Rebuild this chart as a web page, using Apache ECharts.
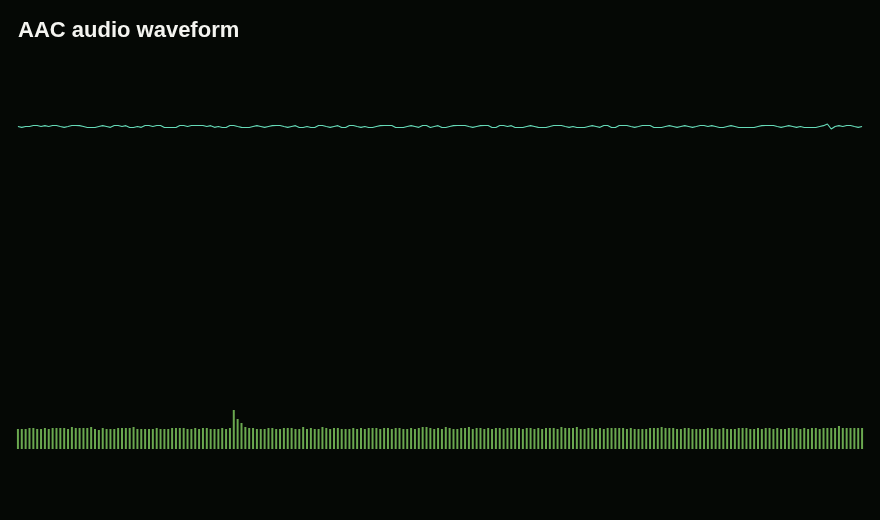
<!DOCTYPE html>
<html>
<head>
    <meta charset="utf-8">
    <title>AAC audio waveform</title>
    <script src="https://cdn.jsdelivr.net/npm/echarts@6/dist/echarts.min.js"></script>
    <style>
        html, body { margin: 0; padding: 0; background: #050805; }
    </style>
</head>
<body>
    <div id="main" style="width:880px; height:520px;"></div>

    <script type="text/javascript">

        // waveform samples (normalised amplitude, -1..1)
        var waveform = [
            0, -0.008, 0, 0, 0.01, 0.01, 0, 0.008, 0, 0.01,
            0.01, 0, -0.008, 0, 0.01, 0.01, 0.008, 0, -0.01, -0.01,
            -0.01, 0, 0.008, 0, -0.008, 0.01, 0.01, 0, 0.008, -0.01,
            -0.01, 0, -0.008, 0.01, 0.01, 0, 0.01, 0.01, -0.01, -0.01,
            -0.01, -0.01, 0.01, 0.01, 0, 0.01, 0.01, 0.01, 0.01, 0,
            0.008, -0.008, 0, -0.01, -0.01, 0.01, 0.01, 0, -0.008, -0.01,
            -0.01, 0, 0.008, 0, -0.008, 0, 0.008, 0.01, 0.01, 0,
            -0.008, 0, 0.008, -0.01, -0.01, 0, -0.01, -0.01, 0.01, 0.01,
            0, -0.008, 0, 0.008, -0.01, -0.01, 0.01, 0.01, 0, -0.008,
            0, -0.01, -0.01, 0, 0.008, 0.01, 0.01, 0.01, -0.01, -0.01,
            -0.01, 0, 0.008, 0, -0.008, 0.01, 0.01, -0.01, 0, 0.008,
            -0.01, -0.01, 0, 0.008, 0.01, 0.01, 0.01, 0, -0.008, 0,
            0.008, 0.01, 0.01, -0.01, -0.01, 0.01, 0.01, 0, 0.008, -0.01,
            -0.01, -0.01, 0, 0.008, 0, -0.008, -0.01, -0.01, 0, 0.01,
            0.01, 0.01, 0, -0.008, 0, -0.01, -0.01, -0.01, 0, 0.008,
            0, -0.008, 0.01, 0.01, -0.01, -0.01, 0.01, 0.01, 0.01, 0,
            -0.008, 0, 0.01, 0.01, 0.01, -0.01, -0.01, -0.01, 0, 0.008,
            0, -0.008, 0, 0.008, 0, -0.008, 0, 0.01, 0.01, 0,
            0.008, 0, -0.01, -0.01, 0, 0.008, 0, -0.01, -0.01, -0.01,
            -0.01, -0.01, 0, 0.008, 0.01, 0.01, 0.01, 0, -0.008, 0,
            0.008, 0, -0.008, 0, -0.01, -0.01, -0.01, -0.01, 0, 0.008,
            0.025, -0.025, 0, 0.008, 0, 0.01, 0.01, 0, -0.008, 0
        ];

        // AAC frame sizes in bytes
        var frameBytes = [
            360, 360, 360, 378, 378, 360, 360, 378, 360, 378,
            378, 378, 378, 360, 396, 378, 378, 378, 378, 396,
            360, 342, 378, 360, 360, 360, 378, 378, 378, 378,
            396, 360, 360, 360, 360, 360, 378, 360, 360, 360,
            378, 378, 378, 378, 360, 360, 378, 360, 378, 378,
            360, 360, 360, 378, 360, 378, 702, 540, 468, 396,
            378, 378, 360, 360, 360, 378, 378, 360, 360, 378,
            378, 378, 360, 360,
            396, 360, 378, 360, 360, 396, 378, 360, 378, 378,
            360, 360, 360, 378, 360, 378, 360, 378, 378, 378,
            360, 378, 378, 360, 378, 378, 360, 360, 378, 360,
            378, 396, 396, 378, 360, 378, 360, 396, 378, 360,
            360, 378, 378, 396, 360, 378, 378, 360, 378, 360,
            378, 378, 360, 378, 378, 378, 378, 360, 378, 378,
            360, 378, 360, 378, 378, 378, 360, 396, 378, 378,
            378, 396, 360, 360, 378,
            378, 360, 378, 360, 378, 378, 378,
            378, 378, 360, 378, 360, 360, 360, 360, 378, 378,
            378, 396, 378, 378, 378, 360, 360, 378, 378, 360,
            360, 360, 360, 378, 378, 360, 360, 378, 360, 360,
            360, 378, 378, 378, 360, 360, 378, 360, 378, 378,
            360, 378, 360, 360, 378, 378, 378, 360, 378, 360,
            378, 378, 360, 378, 378, 378, 378, 414, 378, 378,
            378, 378, 378, 378
        ];

        var frames = frameBytes.map(function(_, i) { return i; });

        var myChart = echarts.init(document.getElementById('main'));

        myChart.setOption({
            animation: false,
            backgroundColor: '#050805',
            title: {
                text: 'AAC audio waveform',
                left: 18,
                top: 20,
                padding: 0,
                textStyle: {
                    color: '#f4f4f0',
                    fontSize: 22,
                    fontWeight: 'bold',
                    fontFamily: 'Liberation Sans, Arial, sans-serif'
                }
            },
            grid: [
                { left: 16, right: 16, top: 26.5, height: 200 },
                { left: 16, right: 16, top: 389, height: 60 }
            ],
            xAxis: [
                { type: 'category', gridIndex: 0, data: frames, show: false },
                { type: 'category', gridIndex: 1, data: frames, show: false }
            ],
            yAxis: [
                { type: 'value', gridIndex: 0, min: -1, max: 1, show: false },
                { type: 'value', gridIndex: 1, min: 0, max: 1080, show: false }
            ],
            series: [
                {
                    name: 'waveform',
                    type: 'line',
                    xAxisIndex: 0,
                    yAxisIndex: 0,
                    data: waveform,
                    showSymbol: false,
                    lineStyle: { color: '#66dab8', width: 1.2 }
                },
                {
                    name: 'frame size',
                    type: 'bar',
                    xAxisIndex: 1,
                    yAxisIndex: 1,
                    data: frameBytes,
                    barWidth: 2,
                    itemStyle: { color: '#6aa84f' }
                }
            ]
        });
    </script>
</body>
</html>
